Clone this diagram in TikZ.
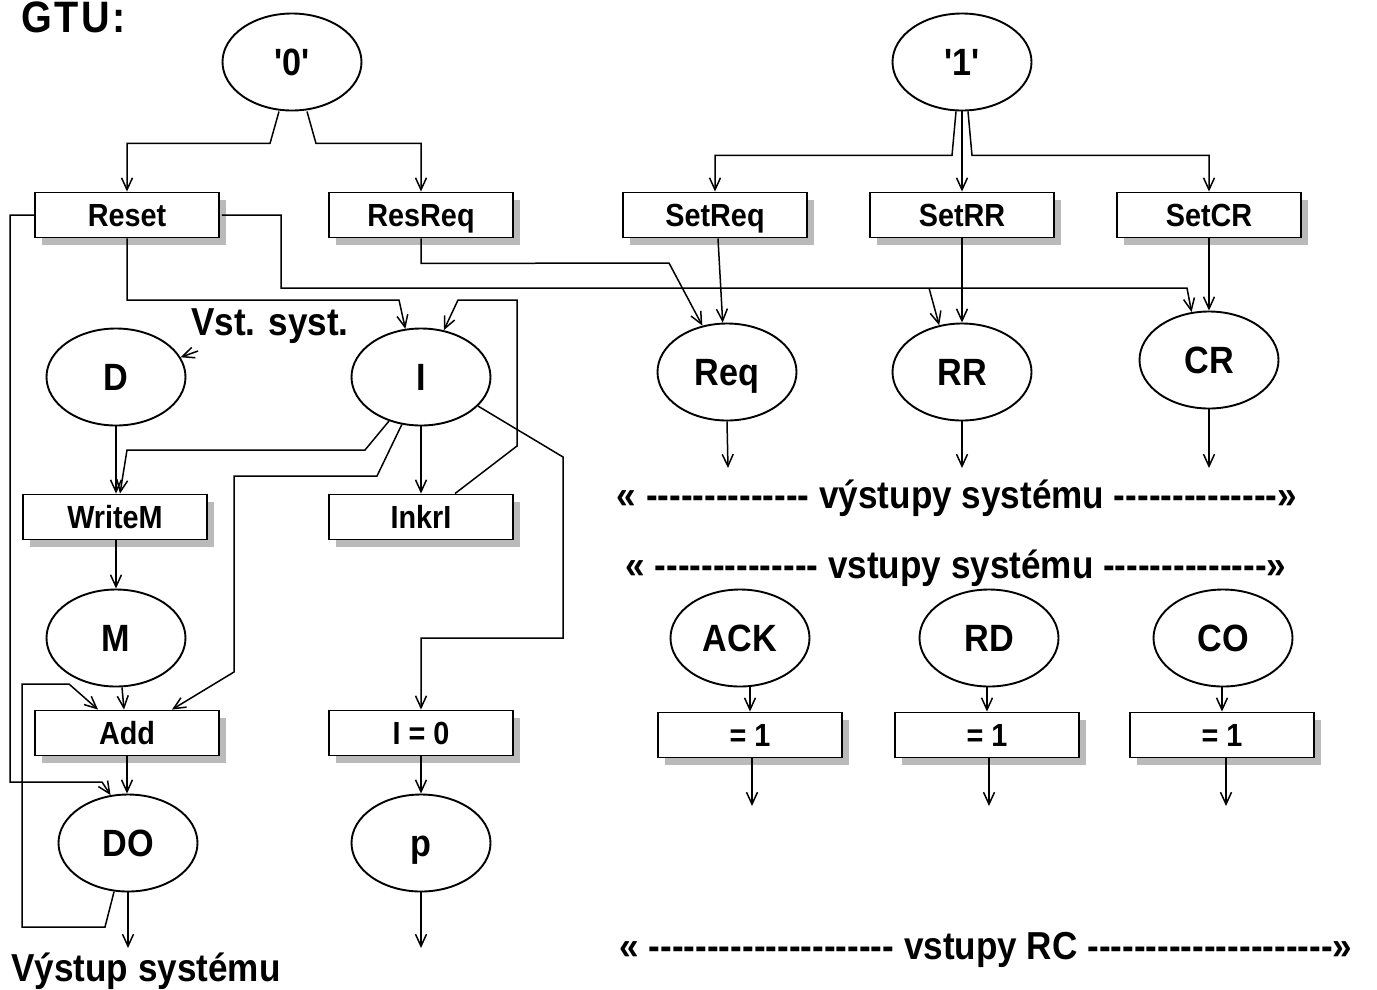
\documentclass[tikz,border=0pt]{standalone}
\usepackage{fontspec}
\setmainfont{Liberation Sans}[Ligatures=TeXOff, FakeStretch=0.9]
\usetikzlibrary{arrows.meta,shapes.geometric,shadows}

\begin{document}
\begin{tikzpicture}[x=1pt,y=-1pt,
  box/.style={draw, line width=1.9pt, fill=white, rectangle,
    minimum width=184pt, minimum height=45pt, inner sep=0pt,
    text height=23pt, text depth=0pt,
    font=\bfseries\fontsize{32}{35}\selectfont,
    drop shadow={shadow xshift=7pt, shadow yshift=-7pt, fill=black!27, opacity=1}},
  state/.style={draw, line width=1.9pt, ellipse, minimum width=139pt,
    minimum height=97pt, inner sep=0pt, text height=27pt, text depth=0pt,
    font=\bfseries\fontsize{38}{42}\selectfont},
  conn/.style={line width=1.5pt, -{Straight Barb[length=12pt,width=11pt,line width=1.5pt]}},
  caption/.style={font=\bfseries\fontsize{39}{44}\selectfont, inner sep=0pt, anchor=base},
]
\useasboundingbox (0,0) rectangle (1377,989);

% title
\node[caption, anchor=base west,
  font=\bfseries\fontsize{44}{48}\selectfont\addfontfeature{LetterSpace=6}] (title) at (21,32) {GTU:};

% constants
\node[state] (zero) at (292,62) {'0'};
\node[state] (one)  at (962,62) {'1'};

% operations, first row
\node[box] (Reset)  at (127,215) {Reset};
\node[box] (ResReq) at (421,215) {ResReq};
\node[box] (SetReq) at (715,215) {SetReq};
\node[box] (SetRR)  at (962,215) {SetRR};
\node[box] (SetCR)  at (1209,215) {SetCR};

% registers
\node[state] (D)   at (116,377) {D};
\node[state] (I)   at (421,377) {I};
\node[state] (Req) at (727,372) {Req};
\node[state] (RR)  at (962,372) {RR};
\node[state] (CR)  at (1209,360) {CR};

\node[caption] (vst) at (270,335) {Vst. syst.};

% second row of operations
\node[box] (WriteM) at (115,517) {WriteM};
\node[box] (InkrI)  at (421,517) {InkrI};

\node[state] (M) at (116,638) {M};

\node[box] (Add) at (127,733) {Add};
\node[box] (Izero) at (421,733) {I = 0};

\node[state] (DO) at (128,843) {DO};
\node[state] (p)  at (421,843) {p};

\node[caption] (out) at (146,981) {Výstup systému};

% system outputs / inputs
\node[caption] (outs) at (957,508) {« -------------- výstupy systému --------------»};
\node[caption] (ins)  at (956,578) {« -------------- vstupy systému --------------»};

\node[state] (ACK) at (740,638) {ACK};
\node[state] (RD)  at (989,638) {RD};
\node[state] (CO)  at (1223,638) {CO};

\node[box] (eqA) at (750,735) {= 1};
\node[box] (eqB) at (987,735) {= 1};
\node[box] (eqC) at (1222,735) {= 1};

\node[caption] (rc) at (986,959) {« --------------------- vstupy RC ---------------------»};

% free ends of output arrows
\coordinate (ReqOut) at (728,468);
\coordinate (RROut)  at (962,468);
\coordinate (CROut)  at (1209,468);
\coordinate (AOut) at (752,806);
\coordinate (BOut) at (989,806);
\coordinate (COut) at (1226,806);
\coordinate (DOout) at (128,948);
\coordinate (pout)  at (421,948);
\coordinate (vsttail) at (198,351);
\coordinate (rrtap) at (929,288);

% '0' and '1' fan-out
\draw[conn] ([xshift=-13pt]zero.south) -- ++(-9,32) -| (Reset.north);
\draw[conn] ([xshift=15pt]zero.south) -- ++(9,32) -| (ResReq.north);
\draw[conn] ([xshift=-6pt]one.south) -- ++(-4,44) -| (SetReq.north);
\draw[conn] (one.south) -- (SetRR.north);
\draw[conn] ([xshift=6pt]one.south) -- ++(4,44) -| (SetCR.north);

% set / reset of the output registers
\draw[conn] (ResReq.south) -- ++(0,25) -- (669,263) -- (Req.118);
\draw[conn] ([xshift=3pt]SetReq.south) -- (Req.95);
\draw[conn] (SetRR.south) -- (RR.north);
\draw[conn] (SetCR.south) -- (CR.north);
\draw[conn] ([xshift=2pt]Reset.east) -- (281,215) -- (281,288) -- (1187,288) -- (CR.110);
\draw[conn] (rrtap) -- (RR.116);

\draw[conn] (Req.south) -- (ReqOut);
\draw[conn] (RR.south) -- (RROut);
\draw[conn] (CR.south) -- (CROut);

% counter I
\draw[conn] (Reset.south) |- (399,300) -- (I.108);
\draw[conn] ([xshift=34pt]InkrI.north) -- (517,446) -- (517,300) -- (458,300) -- (I.64);
\draw[conn] (I.south) -- (InkrI.north);
\draw[conn] (I.333) -- (563,457) -- (563,638) -| (Izero.north);
\draw[conn] (I.234) -- (365,450) -- (127,450) -- ([xshift=5pt]WriteM.north);
\draw[conn] (I.248) -- (377,476) -- (234,476) -- (234,672) -- ([xshift=45pt]Add.north);

% data path
\draw[conn] (vsttail) -- (D.17);
\draw[conn] (D.south) -- (D.south |- WriteM.north);
\draw[conn] (WriteM.south -| M) -- (M.north);
\draw[conn] ([xshift=6pt]M.south) -- ([xshift=-3pt]Add.north);
\draw[conn] (DO.254) -- (105,927) -- (22,927) -- (22,684) -- (69,684) -- ([xshift=-29pt]Add.north);
\draw[conn] (Reset.west) -- (10,215) -- (10,782) -- (102,782) -- (DO.110);
\draw[conn] (Add.south) -- (Add.south |- DO.north);
\draw[conn] (DO.south) -- (DOout);

\draw[conn] (Izero.south) -- (p.north);
\draw[conn] (p.south) -- (pout);

% input conditions
\draw[conn] (ACK.south -| eqA) -- (eqA.north);
\draw[conn] (RD.south -| eqB) -- (eqB.north);
\draw[conn] (CO.south -| eqC) -- (eqC.north);
\draw[conn] ([xshift=2pt]eqA.south) -- (AOut);
\draw[conn] ([xshift=2pt]eqB.south) -- (BOut);
\draw[conn] ([xshift=4pt]eqC.south) -- (COut);
\end{tikzpicture}
\end{document}
